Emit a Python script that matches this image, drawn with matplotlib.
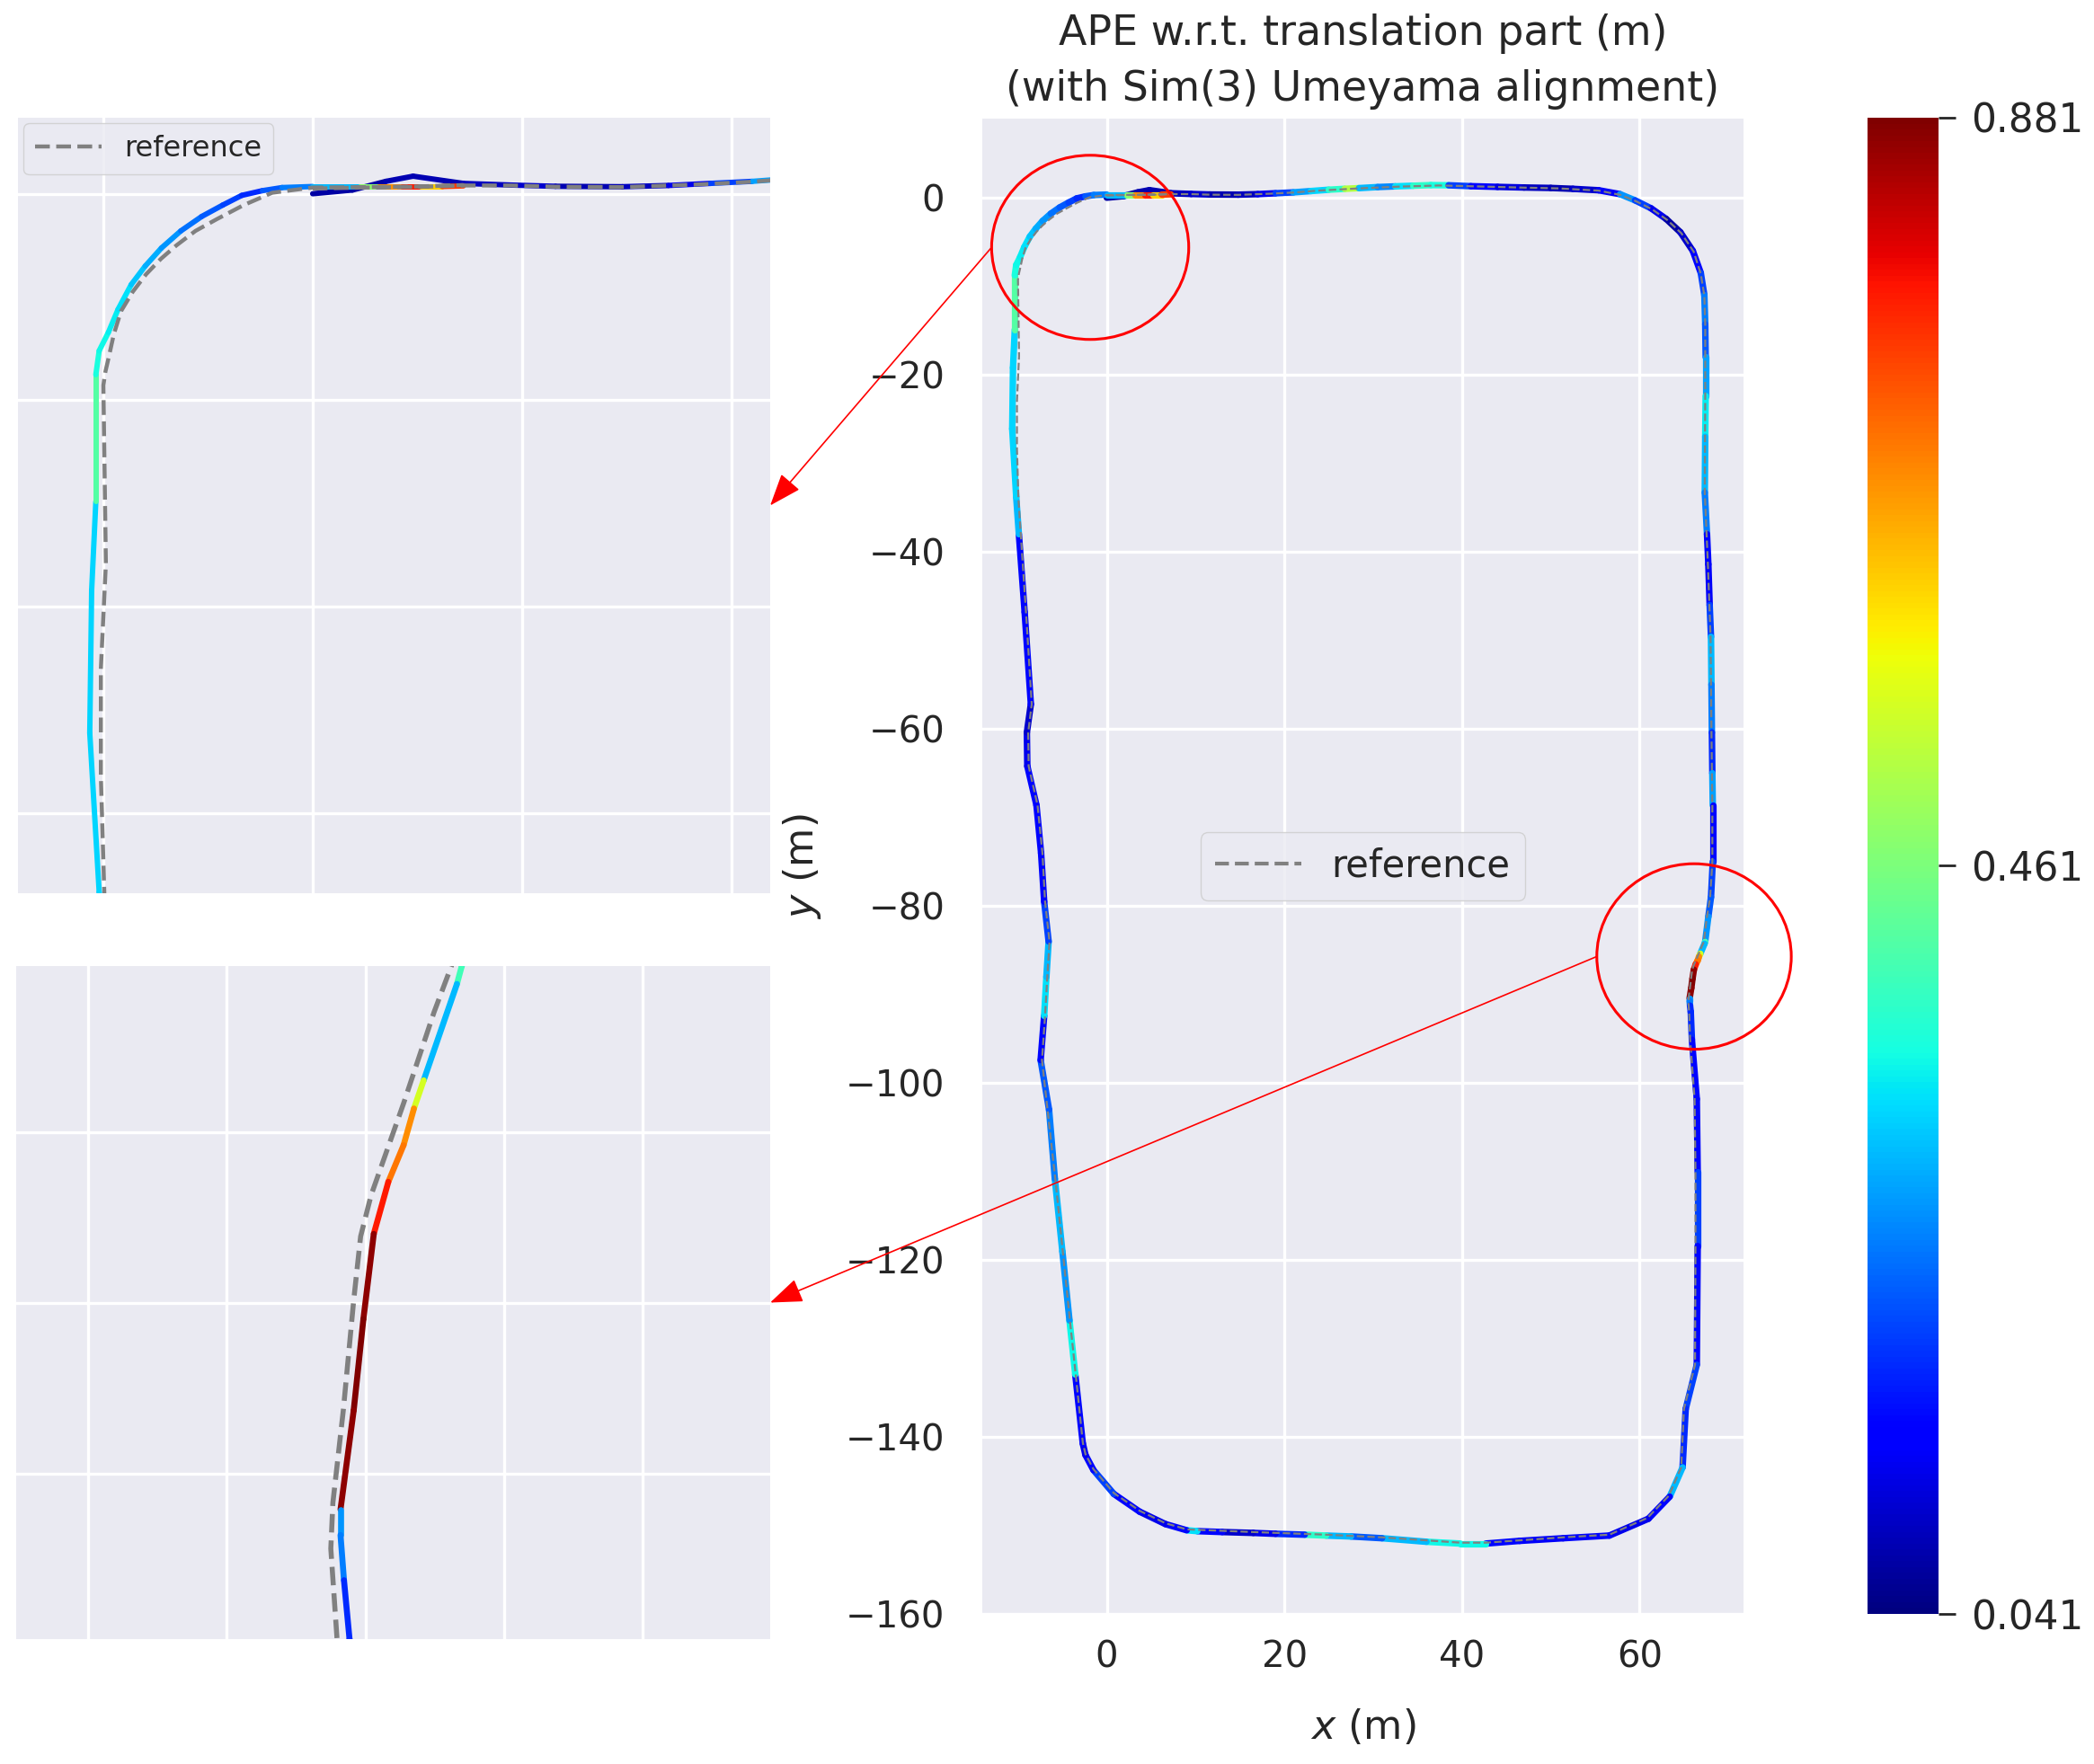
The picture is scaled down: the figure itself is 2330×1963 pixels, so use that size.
import numpy as np
import matplotlib
matplotlib.use("Agg")
import matplotlib.pyplot as plt
from matplotlib.collections import LineCollection
from matplotlib.patches import Ellipse, ConnectionPatch
from matplotlib.colors import Normalize
from matplotlib.cm import ScalarMappable

# ---------------- data ----------------
est_x = [0.0, 1.9, 3.5, 4.8, 7.2, 9.5, 11.6, 14.8, 17.0, 19.0, 21.0, 23.0, 25.0, 26.8,
         28.4, 30.5, 32.5, 34.5, 36.5, 38.5, 41.0, 44.0, 47.0, 50.0, 52.5, 55.4, 57.8,
         59.5, 61.3, 63.0, 64.6, 66.0, 66.9, 67.3, 67.4, 67.45, 67.45, 67.4, 67.35, 67.6,
         67.75, 67.9, 68.05, 68.1, 68.15, 68.2, 68.25, 68.25, 68.05, 67.75, 67.39, 67.32,
         66.84, 66.70, 66.55, 66.33, 66.12, 65.97, 65.83, 65.64, 65.64, 65.69, 65.77, 65.9,
         66.45, 66.55, 66.55, 66.45, 65.2, 64.85, 63.4, 61.0, 56.6, 51.4, 46.5, 42.7, 39.8,
         36.0, 31.0, 27.5, 24.7, 22.3, 19.0, 16.5, 13.0, 10.2, 9.0, 6.6, 3.7, 0.8, -1.5,
         -2.4, -2.7, -3.55, -4.2, -5.0, -5.85, -6.5, -7.45, -7.05, -6.8, -6.55, -7.05, -7.4,
         -7.92, -8.95, -9.0, -8.55, -9.25, -9.9, -10.2, -10.65, -10.56, -10.36, -10.36, -10.2,
         -9.76, -9.3, -8.67, -8.0, -7.23, -6.3, -5.3, -4.3, -3.39, -2.4, -1.46, 0.0,
         2.3, 3.2, 4.3, 5.2, 6.2, 7.2]
est_y = [0.0, 0.18, 0.6, 0.85, 0.5, 0.42, 0.36, 0.34, 0.4, 0.5, 0.6, 0.75, 0.9, 1.0,
         1.08, 1.2, 1.28, 1.35, 1.42, 1.4, 1.3, 1.22, 1.15, 1.1, 1.0, 0.84, 0.4,
         -0.3, -1.2, -2.4, -3.9, -6.0, -8.5, -11.0, -14.3, -18.0, -22.4, -27.0, -33.3, -38.0,
         -41.4, -46.0, -49.6, -55.0, -60.4, -65.0, -68.6, -75.0, -79.0, -81.2, -84.05, -84.26,
         -85.39, -85.72, -86.15, -86.58, -87.19, -88.19, -89.26, -90.42, -90.72, -91.25, -91.94, -95.1,
         -101.8, -110.0, -118.4, -131.8, -136.8, -143.4, -146.7, -149.2, -151.1, -151.4, -151.7, -152.0, -152.0,
         -151.8, -151.4, -151.2, -151.1, -151.0, -150.9, -150.8, -150.7, -150.6, -150.5, -149.8, -148.4, -146.4, -143.7,
         -142.0, -140.7, -132.9, -126.8, -119.0, -110.8, -103.0, -97.4, -92.4, -88.0, -84.0, -79.5, -74.0,
         -68.6, -64.2, -60.4, -57.2, -46.8, -38.0, -33.8, -26.1, -19.2, -14.9, -8.76, -7.6,
         -6.71, -5.6, -4.4, -3.5, -2.63, -1.8, -1.1, -0.55, -0.08, 0.15, 0.3, 0.35,
         0.35, 0.35, 0.35, 0.35, 0.35, 0.38]
est_ape = [0.07, 0.07, 0.08, 0.08, 0.09, 0.10, 0.08, 0.09, 0.12, 0.20, 0.28, 0.32, 0.38, 0.52,
           0.30, 0.26, 0.33, 0.38, 0.36, 0.20, 0.15, 0.11, 0.09, 0.08, 0.10, 0.13, 0.27,
           0.20, 0.12, 0.07, 0.10, 0.15, 0.20, 0.25, 0.22, 0.28, 0.34, 0.30, 0.25, 0.15,
           0.13, 0.20, 0.30, 0.25, 0.18, 0.28, 0.15, 0.20, 0.22, 0.27, 0.40, 0.30,
           0.55, 0.68, 0.70, 0.78, 0.87, 0.88, 0.87, 0.27, 0.25, 0.18, 0.18, 0.15,
           0.15, 0.20, 0.15, 0.20, 0.18, 0.30, 0.15, 0.12, 0.15, 0.13, 0.15, 0.35, 0.35,
           0.30, 0.22, 0.30, 0.38, 0.18, 0.12, 0.10, 0.15, 0.33, 0.15, 0.12, 0.15, 0.20, 0.15,
           0.12, 0.15, 0.35, 0.27, 0.30, 0.25, 0.22, 0.15, 0.33, 0.30, 0.20, 0.15, 0.15,
           0.15, 0.12, 0.10, 0.15, 0.15, 0.30, 0.32, 0.32, 0.32, 0.42, 0.36, 0.35,
           0.34, 0.33, 0.31, 0.29, 0.27, 0.24, 0.22, 0.20, 0.18, 0.22, 0.25, 0.30,
           0.48, 0.68, 0.78, 0.62, 0.75, 0.35]

ref_x = [0.0, 2.5, 5.0, 7.2, 9.5, 11.6, 14.8, 18.4, 21.0, 23.8, 28.4, 32.9, 37.4, 41.9,
         46.4, 50.9, 55.4, 57.9, 59.6, 61.4, 63.1, 64.7, 66.1, 66.9, 67.3, 67.4, 67.4,
         67.35, 67.7, 68.0, 68.1, 68.2, 68.2, 67.95, 67.55, 67.24, 66.99, 66.55, 66.08,
         65.93, 65.83, 65.68, 65.53, 65.50, 65.59, 65.7, 66.2, 66.3, 66.3, 66.25, 65.0,
         64.7, 63.3, 60.9, 56.6, 51.4, 42.7, 39.8, 31.0, 24.7, 16.5, 9.0, 6.6, 3.7, 0.8,
         -1.5, -2.4, -2.7, -3.5, -4.15, -5.8, -7.3, -6.95, -6.7, -6.45, -6.95, -7.25, -7.8,
         -8.8, -8.85, -8.45, -9.1, -9.95, -10.12, -10.12, -9.88, -10.0, -9.9, -9.76, -9.5,
         -9.16, -8.6, -7.96, -7.25, -6.51, -5.6, -4.58, -3.3, -1.93, 0.0, 2.5, 5.0, 7.2]
ref_y = [0.25, 0.3, 0.33, 0.4, 0.4, 0.34, 0.32, 0.45, 0.58, 0.8, 1.05, 1.25, 1.38, 1.27,
         1.15, 1.05, 0.8, 0.3, -0.4, -1.3, -2.5, -4.0, -6.1, -8.6, -11.1, -14.3, -22.4,
         -33.3, -41.4, -49.6, -60.4, -68.6, -75.0, -79.0, -81.5, -84.05, -84.59, -85.66, -86.74,
         -87.22, -87.97, -89.26, -90.34, -90.88, -91.94, -95.1, -101.8, -110.0, -118.4, -131.8, -136.8,
         -143.4, -146.6, -149.1, -151.0, -151.3, -151.9, -151.9, -151.3, -151.0, -150.7, -150.4, -149.7, -148.3, -146.3,
         -143.6, -141.9, -140.6, -132.9, -126.8, -110.8, -97.4, -92.4, -88.0, -84.0, -79.5, -74.0, -68.6,
         -64.2, -60.4, -57.2, -46.8, -34.0, -28.2, -23.0, -17.9, -9.27, -8.6, -7.99, -6.8,
         -5.69, -4.75, -3.9, -3.15, -2.5, -1.8, -1.23, -0.55, 0.05, 0.3, 0.32, 0.35, 0.42]

ape_min, ape_max = 0.041, 0.881
cbar_ticks = [0.041, 0.461, 0.881]
main_xticks = [0, 20, 40, 60]
main_yticks = [0, -20, -40, -60, -80, -100, -120, -140, -160]
zoom1_xticks = [-10, 0, 10, 20]
zoom1_yticks = [0, -10, -20, -30]
zoom2_xticks = [62, 64, 66, 68, 70]
zoom2_yticks = [-90, -88, -86]

title_text = "APE w.r.t. translation part (m)\n(with Sim(3) Umeyama alignment)"

# ---------------- style ----------------
plt.rcParams.update({
    "font.family": ["DejaVu Sans"],
    "mathtext.fontset": "dejavusans",
    "text.color": "#262626",
    "axes.labelcolor": "#262626",
    "xtick.color": "#262626",
    "ytick.color": "#262626",
    "axes.facecolor": "#EAEAF2",
    "axes.edgecolor": "white",
    "grid.color": "white",
    "grid.linewidth": 2.4,
    "axes.axisbelow": True,
})

W, H = 2330, 1963
fig = plt.figure(figsize=(W / 100, H / 100), dpi=100)


def frac(x0, y0, x1, y1):
    return [x0 / W, 1 - y1 / H, (x1 - x0) / W, (y1 - y0) / H]


ax = fig.add_axes(frac(1093, 131.5, 1940, 1796.5))
cax = fig.add_axes(frac(2078, 131, 2157, 1796))
ax1 = fig.add_axes(frac(20, 131, 857, 994))
ax2 = fig.add_axes(frac(18, 1075, 857, 1824))

norm = Normalize(ape_min, ape_max)
cmap = plt.get_cmap("jet")


def draw_traj(a, lw_est, lw_ref):
    a.plot(ref_x, ref_y, "--", color="gray", lw=lw_ref, label="reference", zorder=2)
    pts = np.column_stack([est_x, est_y]).reshape(-1, 1, 2)
    segs = np.concatenate([pts[:-1], pts[1:]], axis=1)
    lc = LineCollection(segs, cmap=cmap, norm=norm, linewidths=lw_est,
                        capstyle="round", joinstyle="round", zorder=1)
    lc.set_array(np.asarray(est_ape[:-1]))
    a.add_collection(lc)
    for s in a.spines.values():
        s.set_visible(False)
    a.grid(True)


# main axes
draw_traj(ax, 5.2, 1.6)
ax.set_xlim(-14.02, 71.71)
ax.set_ylim(-159.54, 8.98)
ax.set_xticks(main_xticks)
ax.set_yticks(main_yticks)
ax.tick_params(axis="both", length=0, labelsize=29)
ax.tick_params(axis="y", pad=30)
ax.tick_params(axis="x", pad=20)
ax.set_xlabel("$x$ (m)", fontsize=32, labelpad=26)
ax.set_ylabel("$y$ (m)", fontsize=32, labelpad=18)
ax.set_title(title_text, fontsize=33, pad=14, linespacing=1.5)
leg = ax.legend(loc="center", fontsize=30, handlelength=2.3, frameon=True,
                facecolor="#EAEAF2", edgecolor="#cccccc", framealpha=0.8)
for ln in leg.get_lines():
    ln.set_linewidth(3.0)

# zoom inset 1 (top-left corner)
draw_traj(ax1, 4.3, 3.2)
ax1.set_xlim(-14.08, 21.86)
ax1.set_ylim(-33.86, 3.68)
ax1.set_xticks(zoom1_xticks)
ax1.set_yticks(zoom1_yticks)
ax1.tick_params(labelbottom=False, labelleft=False, length=0)
ax1.legend(loc="upper left", fontsize=23, handlelength=2.3, frameon=True,
           facecolor="#EAEAF2", edgecolor="#cccccc", framealpha=0.8, borderaxespad=0.2)

# zoom inset 2 (right-side kink)
draw_traj(ax2, 4.8, 4.0)
ax2.set_xlim(60.96, 71.84)
ax2.set_ylim(-91.94, -84.05)
ax2.set_xticks(zoom2_xticks)
ax2.set_yticks(zoom2_yticks)
ax2.tick_params(labelbottom=False, labelleft=False, length=0)

# colorbar
sm = ScalarMappable(norm=norm, cmap=cmap)
cb = fig.colorbar(sm, cax=cax, ticks=cbar_ticks)
cb.ax.set_yticklabels([f"{t:.3f}" for t in cbar_ticks])
cb.outline.set_visible(False)
cax.tick_params(length=14, width=2, labelsize=31.5, pad=12, color="#262626")

# red highlight ellipses
e1c, e1w, e1h = (-1.87, -5.61), 22.2, 20.8
e2c, e2w, e2h = (66.14, -85.7), 21.9, 20.95
for c, w_, h_ in [(e1c, e1w, e1h), (e2c, e2w, e2h)]:
    ax.add_patch(Ellipse(c, w_, h_, fill=False, ec="red", lw=2.2, clip_on=False, zorder=6))

# arrows to insets
for c, w_, target in [(e1c, e1w, ax1), (e2c, e2w, ax2)]:
    cp = ConnectionPatch(xyA=(c[0] - w_ / 2, c[1]), coordsA=ax.transData,
                         xyB=(1.0, 0.5), coordsB=target.transAxes,
                         arrowstyle="-|>,head_length=0.8,head_width=0.3",
                         mutation_scale=28, color="red", lw=1.2, zorder=7)
    fig.add_artist(cp)

fig.savefig("out.png", dpi=100)
